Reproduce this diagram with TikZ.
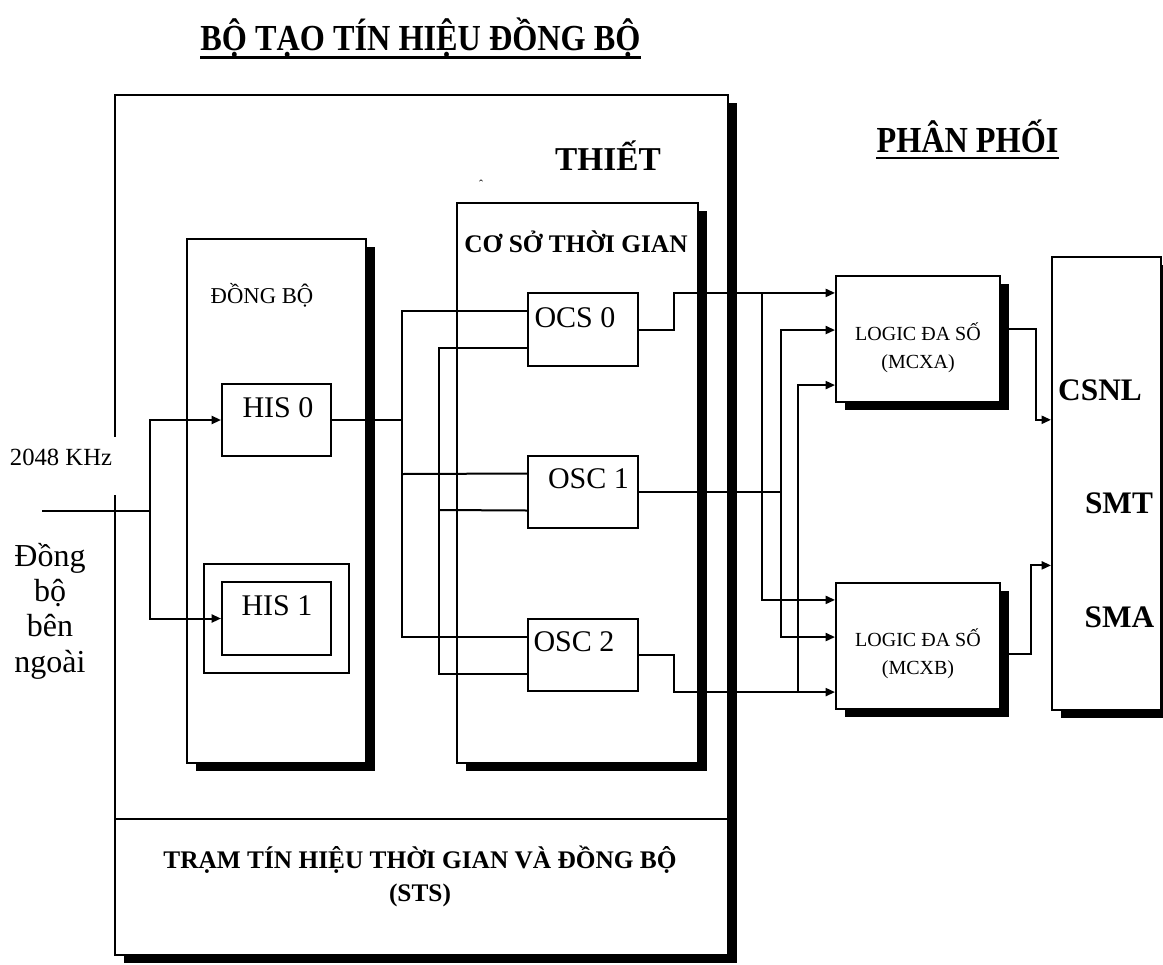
\documentclass[tikz,border=0pt]{standalone}
\usepackage{fontspec}
\setmainfont{Liberation Serif}
\newfontfamily\narrowserif[FakeStretch=0.88]{Liberation Serif}
\usetikzlibrary{arrows.meta,calc,fit,shadows}

\begin{document}
\begin{tikzpicture}[
  x=0.75pt, y=-0.75pt,
  box/.style={draw, line width=1.5pt, fill=white, inner sep=0pt},
  shbox/.style={box, drop shadow={shadow xshift=6.5pt, shadow yshift=-6pt, opacity=1, fill=black}},
  wire/.style={line width=1.5pt},
  arrow/.style={-{Triangle[length=7pt, width=6pt]}},
  ul/.style={line width=2pt},
  ttl/.style={font=\narrowserif\bfseries\fontsize{27.5}{30}\selectfont, inner sep=0pt, anchor=base},
  secttl/.style={font=\bfseries\fontsize{19}{24.75}\selectfont, inner sep=0pt},
  bigttl/.style={font=\bfseries\fontsize{25}{28}\selectfont, inner sep=0pt, anchor=base},
  outlbl/.style={font=\bfseries\fontsize{23.5}{26}\selectfont, inner sep=0pt, anchor=base},
  boxlbl/.style={font=\fontsize{22.5}{26}\selectfont, inner sep=0pt, anchor=base},
  logiclbl/.style={font=\fontsize{15}{21}\selectfont, align=center, inner sep=0pt},
]
\useasboundingbox (0,0) rectangle (1163,964);

\node[ttl] (title) at (420.5,50) {BỘ TẠO TÍN HIỆU ĐỒNG BỘ};
\draw[ul] ([yshift=-5.5pt]title.base west) -- ([yshift=-5.5pt]title.base east);
\node[ttl] (distr) at (967.5,152) {PHÂN PHỐI};
\draw[ul] ([yshift=-4.5pt]distr.base west) -- ([yshift=-4.5pt]distr.base east);

\node[shbox, fit={(115,95) (728,955)}] (sts) {};
\coordinate (divide) at (0,819);
\draw[wire] (sts.west |- divide) -- (sts.east |- divide);
\node[secttl, align=center] (stslbl) at (420,876) {TRẠM TÍN HIỆU THỜI GIAN VÀ ĐỒNG BỘ\\(STS)};
\node[bigttl] (thiet) at (608,170) {THIẾT};
\node[font=\fontsize{9}{9}\selectfont, inner sep=0pt] (mark) at (481,184) {ˆ};

\node[shbox, fit={(187,239) (366,763)}] (dongbo) {};
\node[font=\fontsize{17}{20}\selectfont, inner sep=0pt, anchor=base] (dongbolbl) at (262,303) {ĐỒNG BỘ};
\node[shbox, fit={(457,203) (698,763)}] (coso) {};
\node[secttl, anchor=base] (cosolbl) at (576,252) {CƠ SỞ THỜI GIAN};

\node[box, fit={(222,384) (331,456)}] (his0) {};
\node[boxlbl] at (278,417) {HIS 0};
\node[box, fit={(204,564) (349,673)}] (his1frame) {};
\node[box, fit={(222,582) (331,655)}] (his1) {};
\node[boxlbl] at (277,615) {HIS 1};

\node[box, fit={(528,293) (638,366)}] (ocs0) {};
\node[boxlbl] at (575,327) {OCS 0};
\node[box, fit={(528,456) (638,528)}] (osc1) {};
\node[boxlbl] at (588.5,488) {OSC 1};
\node[box, fit={(528,619) (638,691)}] (osc2) {};
\node[boxlbl] at (574,651) {OSC 2};

\node[shbox, fit={(836,276) (1000,402)}] (mcxa) {};
\node[logiclbl] (mcxalbl) at ($(mcxa.center)+(0,9)$) {LOGIC ĐA SỐ\\(MCXA)};
\node[shbox, fit={(836,583) (1000,709)}] (mcxb) {};
\node[logiclbl] (mcxblbl) at ($(mcxb.center)+(0,8)$) {LOGIC ĐA SỐ\\(MCXB)};
\node[shbox, fit={(1052,257) (1161,710)}] (csnl) {};
\node[outlbl] at (1100,400) {CSNL};
\node[outlbl] at (1119,513) {SMT};
\node[outlbl] at (1119.5,627) {SMA};

\node[font=\fontsize{18.5}{22}\selectfont, fill=white, inner ysep=0pt, inner xsep=4pt,
  text height=21pt, text depth=22.5pt, anchor=base] (freq) at (61,465) {2048 KHz};
\node[font=\fontsize{24}{26.5}\selectfont, align=center, inner sep=0pt] (ext) at (50,611) {Đồng\\bộ\\bên\\ngoài};

\coordinate (in) at (42,511);
\coordinate (split) at (150,511);
\draw[wire] (in) -- (split);
\draw[wire, arrow] (split) |- (his0.west);
\draw[wire, arrow] (split) |- (his1.west);

\coordinate (busA) at (402,474);
\coordinate (busB) at (439,510);
\draw[wire] (his0.east) -- (his0.east -| busA);
\draw[wire] ($(ocs0.north west)!.25!(ocs0.south west)$) -| (busA) |- ($(osc2.north west)!.25!(osc2.south west)$);
\draw[wire] (busA) -- ($(osc1.north west)!.25!(osc1.south west)$);
\draw[wire] ($(ocs0.north west)!.75!(ocs0.south west)$) -| (busB) |- ($(osc2.north west)!.75!(osc2.south west)$);
\draw[wire] (busB) -- ($(osc1.north west)!.75!(osc1.south west)$);

\coordinate (a1) at ($(mcxa.north west)!.14!(mcxa.south west)$);
\coordinate (a2) at ($(mcxa.north west)!.43!(mcxa.south west)$);
\coordinate (a3) at ($(mcxa.north west)!.86!(mcxa.south west)$);
\coordinate (b1) at ($(mcxb.north west)!.14!(mcxb.south west)$);
\coordinate (b2) at ($(mcxb.north west)!.43!(mcxb.south west)$);
\coordinate (b3) at ($(mcxb.north west)!.86!(mcxb.south west)$);
\draw[wire, arrow] (ocs0.east) -- ++(35,0) |- (a1);
\draw[wire, arrow] ($(a1)+(-73,0)$) |- (b1);
\draw[wire, arrow] (osc1.east) -| ($(a2)+(-54,0)$) -- (a2);
\draw[wire, arrow] ($(a2)+(-54,0)$) |- (b2);
\draw[wire, arrow] (osc2.east) -- ++(35,0) |- (b3);
\draw[wire, arrow] ($(b3)+(-37,0)$) |- (a3);

\draw[wire, arrow] ($(mcxa.north east)!.42!(mcxa.south east)$) -- ++(35,0) |- ($(csnl.north west)!.36!(csnl.south west)$);
\draw[wire, arrow] ($(mcxb.north east)!.56!(mcxb.south east)$) -- ++(30,0) |- ($(csnl.north west)!.68!(csnl.south west)$);
\end{tikzpicture}
\end{document}
